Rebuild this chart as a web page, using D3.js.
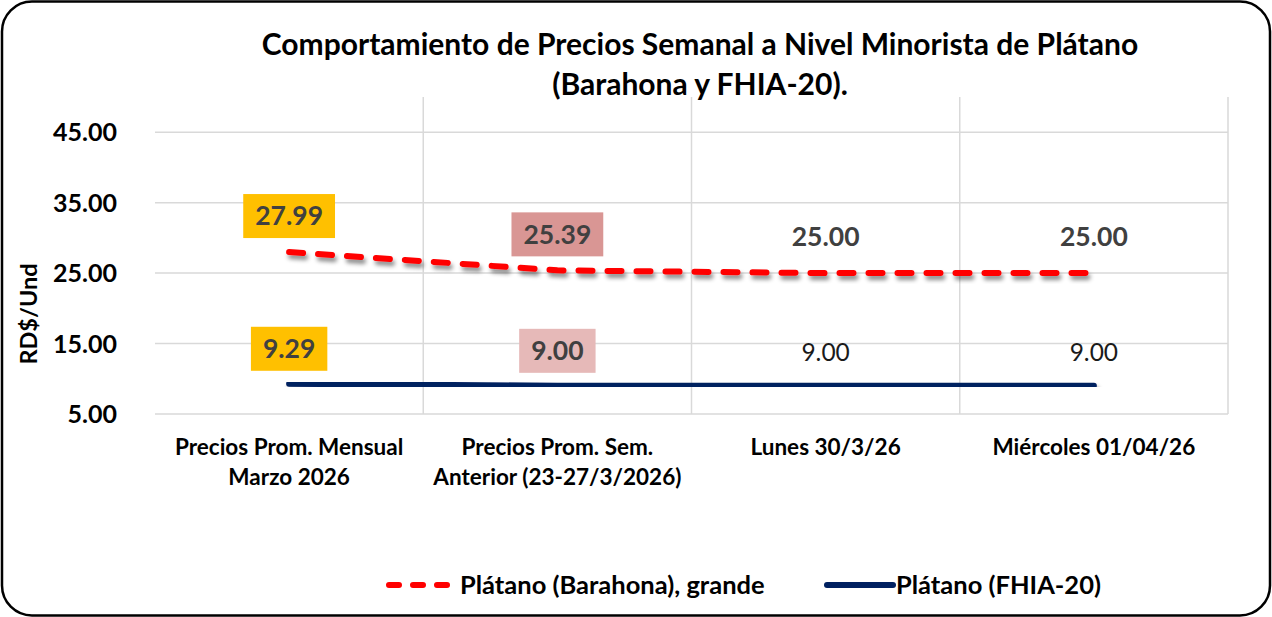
<!DOCTYPE html>
<html>
<head>
<meta charset="utf-8">
<script src="https://cdn.jsdelivr.net/npm/d3@7"></script>
<style>
  body { margin: 0; background: #fff; }
  text { font-family: Lato, "Open Sans", sans-serif; }
</style>
</head>
<body>
<div id="chart"></div>
<script>
// datos
const categories = [
  ["Precios Prom. Mensual", "Marzo 2026"],
  ["Precios Prom. Sem.", "Anterior (23-27/3/2026)"],
  ["Lunes 30/3/26"],
  ["Miércoles 01/04/26"]
];
const barahona = [27.99, 25.39, 25.00, 25.00];
const fhia = [9.29, 9.00, 9.00, 9.00];
const yTicks = [5, 15, 25, 35, 45];
const seriesNames = ["Plátano (Barahona), grande", "Plátano (FHIA-20)"];
const titleLines = ["Comportamiento de Precios Semanal a Nivel Minorista de Plátano", "(Barahona y FHIA-20)."];

// colores de las etiquetas (por punto)
const barahonaBox = ["#FFC000", "#D99694", null, null];
const fhiaBox = ["#FFC000", "#E6B9B8", null, null];

const W = 1272, H = 617;
const plot = {left: 155, right: 1228, top: 97, bottom: 414};

const svg = d3.select("#chart").append("svg")
  .attr("width", W).attr("height", H);

const defs = svg.append("defs");
const f = defs.append("filter").attr("id", "shadow")
  .attr("x", "-5%").attr("y", "-50%").attr("width", "110%").attr("height", "200%");
f.append("feDropShadow").attr("dx", 2).attr("dy", 4).attr("stdDeviation", 2.2)
  .attr("flood-color", "#000").attr("flood-opacity", 0.45);

// marco redondeado
svg.append("rect")
  .attr("x", 2).attr("y", 1.5).attr("width", W - 4).attr("height", H - 3)
  .attr("rx", 30).attr("ry", 30)
  .attr("fill", "#fff").attr("stroke", "#000").attr("stroke-width", 2.5);

const x = d3.scaleBand().domain(d3.range(categories.length))
  .range([plot.left, plot.right]);
const y = d3.scaleLinear().domain([5, 50]).range([plot.bottom, plot.top]);

// grid horizontal
svg.append("g").selectAll("line").data(yTicks).enter().append("line")
  .attr("x1", plot.left).attr("x2", plot.right)
  .attr("y1", d => y(d)).attr("y2", d => y(d))
  .attr("stroke", "#D9D9D9").attr("stroke-width", 1.5);

// grid vertical
svg.append("g").selectAll("line").data(d3.range(1, categories.length + 1)).enter().append("line")
  .attr("x1", d => plot.left + d * x.bandwidth()).attr("x2", d => plot.left + d * x.bandwidth())
  .attr("y1", plot.top).attr("y2", plot.bottom)
  .attr("stroke", "#D9D9D9").attr("stroke-width", 1.5);

// eje y
const yAxis = svg.append("g")
  .attr("transform", "translate(" + (plot.left - 35) + ",0)")
  .call(d3.axisLeft(y).tickValues(yTicks).tickFormat(d3.format(".2f")).tickSize(0));
yAxis.select(".domain").remove();
yAxis.selectAll("text")
  .attr("font-family", "Lato, sans-serif").attr("font-size", 25).attr("font-weight", "bold")
  .attr("fill", "#000").attr("dy", "0.35em");

svg.append("text")
  .attr("transform", "translate(37,314) rotate(-90)")
  .attr("text-anchor", "middle")
  .attr("font-size", 23.5).attr("font-weight", "bold").attr("fill", "#000")
  .text("RD$/Und");

// eje x
const xl = svg.append("g").selectAll("text").data(categories).enter().append("text")
  .attr("x", (d, i) => x(i) + x.bandwidth() / 2)
  .attr("y", 455)
  .attr("text-anchor", "middle")
  .attr("font-size", 22.5).attr("font-weight", "bold").attr("fill", "#000");
xl.selectAll("tspan").data(d => d).enter().append("tspan")
  .attr("x", function() { return this.parentNode.getAttribute("x"); })
  .attr("dy", (d, i) => i === 0 ? 0 : 30)
  .text(d => d);

// lineas
const cx = i => x(i) + x.bandwidth() / 2;
const line = d3.line().x((d, i) => cx(i)).y(d => y(d));

svg.append("path").datum(fhia)
  .attr("d", line).attr("fill", "none")
  .attr("stroke", "#002060").attr("stroke-width", 6).attr("stroke-linecap", "round")
  .attr("filter", "url(#shadow)");

svg.append("path").datum(barahona)
  .attr("d", line).attr("fill", "none")
  .attr("stroke", "#FF0000").attr("stroke-width", 6).attr("stroke-linecap", "round")
  .attr("stroke-dasharray", "14,15")
  .attr("filter", "url(#shadow)");

// etiquetas de datos
function labels(data, boxes, offset, boldAll) {
  const g = svg.append("g");
  data.forEach((v, i) => {
    const px = cx(i);
    const boxed = boxes[i] !== null;
    const bold = boxed || boldAll;
    const py = y(v) - offset + (bold ? 0 : 2);
    const t = g.append("text")
      .attr("x", px).attr("y", py).attr("dy", "0.35em")
      .attr("text-anchor", "middle")
      .attr("font-size", bold ? 26.5 : 24.5)
      .attr("font-weight", bold ? "bold" : "normal")
      .attr("fill", bold ? "#404040" : "#1a1a1a")
      .text(d3.format(".2f")(v));
    if (boxed) {
      const bb = t.node().getBBox();
      g.insert("rect", "text")
        .attr("x", px - bb.width / 2 - 12).attr("y", py - 22)
        .attr("width", bb.width + 24).attr("height", 44)
        .attr("fill", boxes[i]);
    }
  });
}
labels(barahona, barahonaBox, 36, true);
labels(fhia, fhiaBox, 35, false);

// titulo
svg.append("g").selectAll("text").data(titleLines).enter().append("text")
  .attr("x", 700).attr("y", (d, i) => 55 + i * 40)
  .attr("text-anchor", "middle")
  .attr("font-size", 30).attr("font-weight", "bold").attr("fill", "#000")
  .text(d => d);

// leyenda
const leg = svg.append("g");
leg.append("line").attr("x1", 389).attr("x2", 455).attr("y1", 585).attr("y2", 585)
  .attr("stroke", "#FF0000").attr("stroke-width", 6).attr("stroke-linecap", "round")
  .attr("stroke-dasharray", "10,14");
leg.append("text").attr("x", 460).attr("y", 585).attr("dy", "0.35em")
  .attr("font-size", 25.5).attr("font-weight", "bold").attr("fill", "#000")
  .text(seriesNames[0]);
leg.append("line").attr("x1", 827).attr("x2", 893).attr("y1", 585).attr("y2", 585)
  .attr("stroke", "#002060").attr("stroke-width", 6).attr("stroke-linecap", "round");
leg.append("text").attr("x", 896).attr("y", 585).attr("dy", "0.35em")
  .attr("font-size", 25.5).attr("font-weight", "bold").attr("fill", "#000")
  .text(seriesNames[1]);
</script>
</body>
</html>
